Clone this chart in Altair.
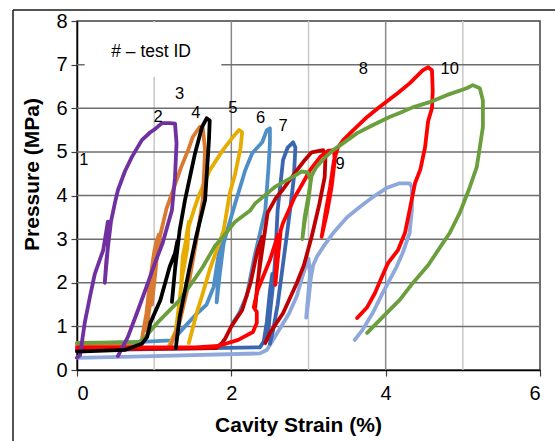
import altair as alt
import pandas as pd

# ---------------- data (strain %, pressure MPa) ----------------
purple_x = [0.0, 0.04, 0.10, 0.17, 0.23, 0.34, 0.40, 0.40, 0.36, 0.38, 0.44, 0.49, 0.53, 0.62, 0.71, 0.84, 0.95, 1.01, 1.10, 1.20, 1.27, 1.29, 1.27, 1.23, 1.11, 1.01, 0.92, 0.79, 0.66, 0.53]
purple_y = [0.28, 0.34, 1.08, 1.70, 2.20, 2.75, 3.40, 2.80, 2.00, 2.50, 3.40, 3.82, 4.12, 4.55, 4.88, 5.27, 5.45, 5.52, 5.66, 5.66, 5.65, 5.20, 4.42, 3.66, 2.91, 2.45, 2.00, 1.37, 0.76, 0.32]

orange_x = [0.0, 0.80, 0.84, 0.90, 0.95, 1.00, 1.03, 1.00, 0.93, 0.90, 0.95, 1.00, 1.04, 1.06, 1.02, 0.97, 1.01, 1.08, 1.16, 1.26, 1.35, 1.44, 1.50, 1.59, 1.63, 1.66, 1.63, 1.55, 1.45, 1.33, 1.22]
orange_y = [0.56, 0.58, 0.70, 1.30, 2.10, 2.70, 2.95, 2.20, 1.30, 0.90, 1.60, 2.50, 3.00, 3.10, 2.30, 1.50, 2.30, 3.10, 3.70, 4.20, 4.65, 5.04, 5.34, 5.57, 5.54, 5.04, 3.90, 3.00, 2.00, 1.10, 0.58]

gold_x = [1.18, 1.28, 1.33, 1.38, 1.42, 1.45, 1.43, 1.35, 1.37, 1.45, 1.52, 1.58, 1.72, 1.89, 2.02, 2.10, 2.14, 2.12, 2.05, 1.98, 1.90, 1.80, 1.72, 1.62, 1.55, 1.45]
gold_y = [0.50, 0.90, 1.60, 2.40, 3.10, 3.40, 2.80, 2.00, 2.60, 3.30, 3.70, 4.00, 4.58, 5.04, 5.34, 5.50, 5.45, 5.10, 4.50, 4.05, 3.20, 2.70, 2.30, 1.70, 1.30, 0.62]

steel_x = [0.0, 0.90, 1.22, 1.30, 1.40, 1.53, 1.68, 1.77, 1.83, 1.86, 1.84, 1.81, 1.85, 1.90, 1.96, 2.05, 2.18, 2.27, 2.40, 2.46, 2.50, 2.50, 2.48, 2.44, 2.38, 2.30, 2.20, 2.10, 2.02]
steel_y = [0.60, 0.65, 0.68, 0.80, 1.00, 1.25, 1.50, 1.90, 2.59, 3.00, 2.40, 1.55, 2.20, 2.90, 3.28, 3.82, 4.58, 4.97, 5.22, 5.50, 5.54, 5.20, 4.60, 3.66, 3.20, 2.60, 1.70, 1.30, 1.08]

dblue_x = [0.0, 2.37, 2.42, 2.46, 2.50, 2.53, 2.49, 2.47, 2.50, 2.55, 2.57, 2.60, 2.67, 2.73, 2.80, 2.83, 2.81, 2.77, 2.72, 2.66, 2.60, 2.54, 2.50]
dblue_y = [0.45, 0.52, 0.65, 1.10, 1.80, 2.20, 1.30, 0.70, 1.30, 2.10, 2.60, 3.66, 4.81, 5.10, 5.22, 5.10, 4.40, 3.80, 3.10, 2.30, 1.50, 0.90, 0.60]

dred_x = [0.0, 1.80, 1.88, 1.92, 2.00, 2.14, 2.25, 2.34, 2.40, 2.36, 2.31, 2.34, 2.42, 2.47, 2.58, 2.66, 2.82, 2.95, 3.04, 3.19, 3.22, 3.21, 3.14, 3.04, 2.94, 2.85, 2.67, 2.50, 2.44]
dred_y = [0.47, 0.50, 0.62, 0.72, 1.00, 1.37, 2.00, 2.75, 3.05, 2.30, 1.45, 2.00, 3.00, 3.60, 3.95, 4.12, 4.51, 4.81, 4.99, 5.04, 4.90, 4.42, 3.80, 3.05, 2.40, 2.00, 1.30, 0.85, 0.62]

red_x = [0.0, 1.53, 1.83, 2.09, 2.28, 2.33, 2.33, 2.29, 2.34, 2.41, 2.50, 2.59, 2.60, 2.58, 2.57, 2.60, 2.64, 2.67, 2.82, 2.89, 3.02, 3.15, 3.25, 3.33, 3.34, 3.30, 3.24, 3.17, 3.22, 3.28, 3.33, 3.38, 3.45, 3.58, 3.76, 3.92, 4.15, 4.31, 4.48, 4.55, 4.60, 4.61, 4.60, 4.55, 4.51, 4.45, 4.38, 4.31, 4.25, 4.16, 4.03, 3.95, 3.86, 3.76, 3.63]
red_y = [0.52, 0.52, 0.55, 0.69, 0.87, 1.08, 1.33, 1.44, 1.83, 2.13, 2.52, 3.02, 3.10, 2.50, 1.95, 2.50, 3.20, 3.37, 3.96, 4.17, 4.58, 4.88, 5.02, 5.04, 4.80, 4.20, 3.60, 3.05, 3.60, 4.20, 4.80, 5.10, 5.27, 5.50, 5.80, 6.03, 6.34, 6.57, 6.87, 6.94, 6.87, 6.40, 6.00, 5.70, 5.10, 4.60, 4.28, 3.66, 3.14, 2.75, 2.45, 2.13, 1.76, 1.44, 1.19]

green_x = [0.0, 0.80, 0.85, 1.04, 1.33, 1.53, 1.63, 1.79, 1.89, 2.05, 2.24, 2.31, 2.50, 2.56, 2.79, 2.91, 2.99, 3.03, 3.00, 2.95, 2.92, 2.95, 3.00, 3.04, 3.10, 3.20, 3.32, 3.45, 3.63, 3.83, 4.05, 4.18, 4.35, 4.57, 4.79, 5.05, 5.13, 5.22, 5.26, 5.26, 5.22, 5.18, 5.09, 4.96, 4.83, 4.70, 4.55, 4.35, 4.18, 3.96, 3.76]
green_y = [0.62, 0.64, 0.69, 1.08, 1.60, 2.10, 2.36, 2.85, 3.05, 3.40, 3.65, 3.82, 4.10, 4.19, 4.42, 4.55, 4.53, 4.35, 3.90, 3.40, 3.00, 3.50, 4.00, 4.45, 4.65, 4.85, 5.04, 5.20, 5.43, 5.61, 5.80, 5.89, 6.02, 6.14, 6.30, 6.46, 6.53, 6.46, 6.18, 5.57, 5.10, 4.65, 4.19, 3.60, 3.14, 2.80, 2.40, 1.99, 1.60, 1.21, 0.85]

lblue_x = [0.0, 1.00, 2.37, 2.46, 2.54, 2.63, 2.75, 2.85, 2.93, 3.00, 3.02, 2.99, 2.97, 3.00, 3.03, 3.06, 3.11, 3.19, 3.32, 3.50, 3.66, 3.83, 4.01, 4.18, 4.31, 4.34, 4.34, 4.31, 4.22, 4.14, 4.05, 3.96, 3.83, 3.70, 3.60]
lblue_y = [0.28, 0.32, 0.38, 0.46, 0.69, 0.95, 1.30, 1.70, 2.20, 2.55, 2.20, 1.60, 1.20, 1.60, 2.10, 2.40, 2.60, 2.82, 3.14, 3.50, 3.73, 3.96, 4.17, 4.28, 4.28, 4.19, 3.66, 3.14, 2.68, 2.36, 2.06, 1.76, 1.30, 0.92, 0.69]

black_x = [0.0, 0.62, 0.84, 0.91, 0.95, 1.08, 1.20, 1.27, 1.30, 1.27, 1.23, 1.27, 1.33, 1.40, 1.53, 1.62, 1.68, 1.72, 1.71, 1.66, 1.55, 1.46, 1.33, 1.28]
black_y = [0.42, 0.46, 0.60, 0.76, 1.08, 1.60, 2.36, 2.68, 2.95, 2.30, 1.56, 2.30, 3.20, 3.90, 4.97, 5.57, 5.77, 5.72, 5.27, 3.90, 3.10, 2.36, 1.21, 0.50]

# drawing order (bottom to top) and colours
curve_names = ["lblue", "dblue", "steel", "gold", "orange", "dred", "red", "green", "purple", "black"]
curve_colors = ["#8FA8DB", "#3B66B0", "#4F8FC7", "#E6AC00", "#D97A30", "#C00000", "#FF0000", "#6B9E3C", "#7030A0", "#000000"]

# annotation labels
label_text = ["1", "2", "3", "4", "5", "6", "7", "8", "10", "9"]
label_x = [0.09, 1.05, 1.33, 1.54, 2.02, 2.38, 2.67, 3.71, 4.83, 3.41]
label_y = [4.81, 5.80, 6.32, 5.89, 6.00, 5.77, 5.59, 6.89, 6.89, 4.72]
note_text = ["# \u2013 test ID"]
note_x = [0.96]
note_y = [7.28]
note_box = {"x": [0.10], "x2": [1.87], "y": [6.72], "y2": [7.97]}

h_grid = [1, 2, 3, 4, 5, 6, 7]
v_grid_major = [2, 4]
v_grid_minor = [1, 3, 5]

# ---------------- build table ----------------
series = {
    "lblue": (lblue_x, lblue_y), "dblue": (dblue_x, dblue_y), "steel": (steel_x, steel_y),
    "gold": (gold_x, gold_y), "orange": (orange_x, orange_y), "dred": (dred_x, dred_y),
    "red": (red_x, red_y), "green": (green_x, green_y), "purple": (purple_x, purple_y),
    "black": (black_x, black_y),
}
rows = []
for k, name in enumerate(curve_names):
    xs, ys = series[name]
    for i, (x, y) in enumerate(zip(xs, ys)):
        rows.append({"test": name, "rank": k, "i": i, "strain": x, "pressure": y})
df = pd.DataFrame(rows)

FONT = "Liberation Sans"
xs_ = alt.Scale(domain=[0, 6], nice=False, zero=False)
ys_ = alt.Scale(domain=[0, 8], nice=False, zero=False)

xaxis = alt.Axis(values=[0, 2, 4, 6], format="d", grid=False, domainColor="#000000", domainWidth=1.5,
                 tickColor="#404040", tickSize=6, tickWidth=1.2, labelFont=FONT, labelFontSize=20,
                 labelColor="#000000", labelPadding=7, title="Cavity Strain (%)", titleFont=FONT,
                 titleFontSize=21, titleFontWeight="bold", titleColor="#000000",
                 titleX=221, titleY=55, titleBaseline="middle", titleAlign="center")
yaxis = alt.Axis(values=[0, 1, 2, 3, 4, 5, 6, 7, 8], format="d", grid=False, domainColor="#000000", domainWidth=1.5,
                 tickColor="#404040", tickSize=6, tickWidth=1.2, labelFont=FONT, labelFontSize=20,
                 labelColor="#000000", labelPadding=4, title="Pressure (MPa)", titleFont=FONT,
                 titleFontSize=21, titleFontWeight="bold", titleColor="#000000",
                 titleX=-45, titleY=153, titleBaseline="middle", titleAlign="center", titleAngle=270)

minor = alt.Chart(pd.DataFrame({"v": v_grid_minor})).mark_rule(color="#C8C8C8", strokeWidth=1.5).encode(
    x=alt.X("v:Q", scale=xs_, axis=xaxis))
major = alt.Chart(pd.DataFrame({"v": v_grid_major})).mark_rule(color="#8A8A8A", strokeWidth=1.5).encode(
    x=alt.X("v:Q", scale=xs_))
hgrid = alt.Chart(pd.DataFrame({"v": h_grid})).mark_rule(color="#6E6E6E", strokeWidth=1.5).encode(
    y=alt.Y("v:Q", scale=ys_, axis=yaxis))

box = alt.Chart(pd.DataFrame(note_box)).mark_rect(color="white").encode(
    x=alt.X("x:Q", scale=xs_), x2="x2", y=alt.Y("y:Q", scale=ys_), y2="y2")

lines = alt.Chart(df).mark_line(strokeWidth=3.8, strokeJoin="round", strokeCap="round").encode(
    x=alt.X("strain:Q", scale=xs_),
    y=alt.Y("pressure:Q", scale=ys_),
    color=alt.Color("test:N", scale=alt.Scale(domain=curve_names, range=curve_colors), legend=None),
    detail="test:N",
    order=alt.Order("i:Q"),
)
# draw in a fixed order so that overlapping looks right
line_layers = [lines.transform_filter(alt.datum.test == n) for n in curve_names]

labels = alt.Chart(pd.DataFrame({"t": label_text, "x": label_x, "y": label_y})).mark_text(
    font=FONT, fontSize=16.5, color="#000000").encode(
    x=alt.X("x:Q", scale=xs_), y=alt.Y("y:Q", scale=ys_), text="t:N")
note = alt.Chart(pd.DataFrame({"t": note_text, "x": note_x, "y": note_y})).mark_text(
    font=FONT, fontSize=17.5, color="#000000").encode(
    x=alt.X("x:Q", scale=xs_), y=alt.Y("y:Q", scale=ys_), text="t:N")

frame_df = pd.DataFrame({"a": [0]})
frame_left = alt.Chart(frame_df).mark_rule(color="#1A1A1A", strokeWidth=1.5).encode(
    x=alt.value(-64), y=alt.value(-11), y2=alt.value(440))
frame_top = alt.Chart(frame_df).mark_rule(color="#1A1A1A", strokeWidth=1.5).encode(
    x=alt.value(-64), x2=alt.value(500), y=alt.value(-11))

chart = alt.layer(minor, major, hgrid, box, *line_layers, labels, note, frame_left, frame_top).properties(
    width=463, height=349,
    autosize=alt.AutoSizeParams(type="none"),
    padding={"left": 77, "top": 21, "right": 15, "bottom": 71},
    background="white",
).configure_view(stroke="#404040", strokeWidth=1.5)

chart.save("out.html", embed_options={"renderer": "svg", "actions": False})
